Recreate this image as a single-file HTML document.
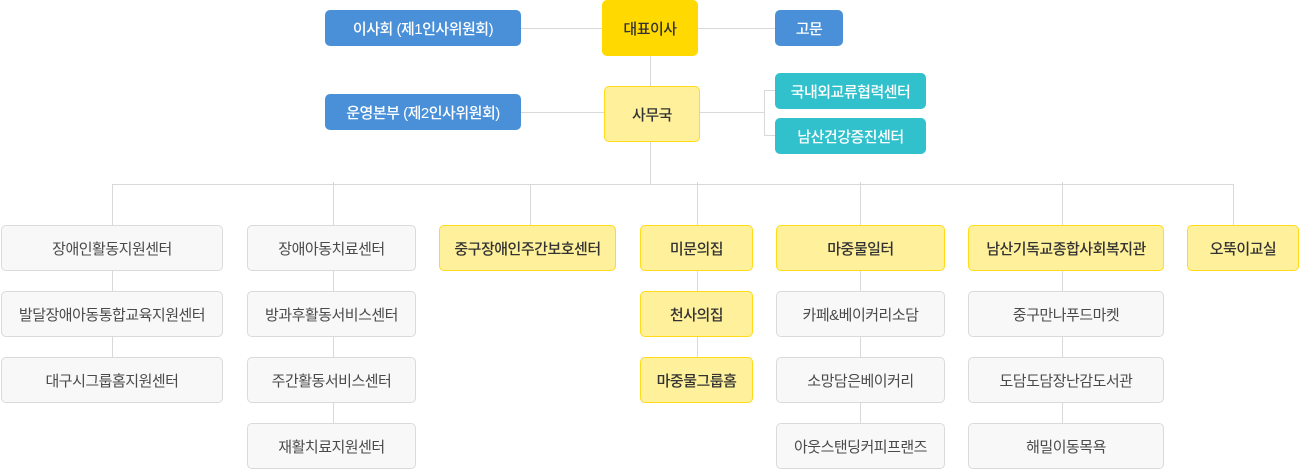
<!DOCTYPE html>
<html>
<head>
<meta charset="utf-8">
<style>
  html,body{margin:0;padding:0;background:#fff;}
  body{width:1300px;height:469px;position:relative;overflow:hidden;
    font-family:"Liberation Sans","Noto Sans CJK KR",sans-serif;}
  .b{position:absolute;box-sizing:border-box;display:flex;align-items:center;justify-content:center;
     font-size:15px;letter-spacing:-0.5px;border-radius:5px;white-space:nowrap;}
  .blue{background:#4a90d8;color:#fff;font-weight:500;}
  .teal{background:#31c1cc;color:#fff;font-weight:500;}
  .ceo{background:#ffd900;color:#333;font-weight:500;}
  .y{background:#fff09b;border:1px solid #ffdb1a;color:#333;font-weight:500;}
  .g{background:#f8f8f8;border:1px solid #dadada;color:#4a4a4a;}
  .h{position:absolute;height:1px;background:#d9d9d9;}
  .v{position:absolute;width:1px;background:#d9d9d9;}
</style>
</head>
<body>
<!-- connectors -->
<div class="h" style="left:521px;top:28px;width:81px;"></div>
<div class="h" style="left:698px;top:28px;width:77px;"></div>
<div class="v" style="left:650px;top:56px;height:30px;"></div>
<div class="h" style="left:521px;top:112px;width:83px;"></div>
<div class="h" style="left:700px;top:112px;width:64px;"></div>
<div class="v" style="left:764px;top:90px;height:46px;"></div>
<div class="h" style="left:764px;top:90px;width:11px;"></div>
<div class="h" style="left:764px;top:135px;width:11px;"></div>
<div class="v" style="left:650px;top:142px;height:42px;"></div>
<div class="h" style="left:112px;top:184px;width:1122px;"></div>

<div class="v" style="left:112px;top:184px;height:180px;"></div>
<div class="v" style="left:333px;top:182px;height:245px;"></div>
<div class="v" style="left:530px;top:184px;height:45px;"></div>
<div class="v" style="left:697px;top:182px;height:180px;"></div>
<div class="v" style="left:860px;top:182px;height:245px;"></div>
<div class="v" style="left:1062px;top:182px;height:245px;"></div>
<div class="v" style="left:1233px;top:184px;height:45px;"></div>

<!-- top -->
<div class="b blue" style="left:325px;top:10px;width:196px;height:36px;">이사회 (제1인사위원회)</div>
<div class="b ceo" style="left:602px;top:0px;width:96px;height:56px;">대표이사</div>
<div class="b blue" style="left:775px;top:10px;width:68px;height:36px;">고문</div>
<div class="b blue" style="left:325px;top:94px;width:196px;height:36px;">운영본부 (제2인사위원회)</div>
<div class="b y" style="left:604px;top:86px;width:96px;height:56px;">사무국</div>
<div class="b teal" style="left:775px;top:73px;width:151px;height:36px;">국내외교류협력센터</div>
<div class="b teal" style="left:775px;top:118px;width:151px;height:36px;">남산건강증진센터</div>

<!-- col1 -->
<div class="b g" style="left:1px;top:225px;width:222px;height:46px;">장애인활동지원센터</div>
<div class="b g" style="left:1px;top:291px;width:222px;height:46px;">발달장애아동통합교육지원센터</div>
<div class="b g" style="left:1px;top:357px;width:222px;height:46px;">대구시그룹홈지원센터</div>

<!-- col2 -->
<div class="b g" style="left:247px;top:225px;width:169px;height:46px;">장애아동치료센터</div>
<div class="b g" style="left:247px;top:291px;width:169px;height:46px;">방과후활동서비스센터</div>
<div class="b g" style="left:247px;top:357px;width:169px;height:46px;">주간활동서비스센터</div>
<div class="b g" style="left:247px;top:423px;width:169px;height:46px;">재활치료지원센터</div>

<!-- col3 -->
<div class="b y" style="left:439px;top:225px;width:177px;height:46px;">중구장애인주간보호센터</div>

<!-- col4 -->
<div class="b y" style="left:640px;top:225px;width:113px;height:46px;">미문의집</div>
<div class="b y" style="left:640px;top:291px;width:113px;height:46px;">천사의집</div>
<div class="b y" style="left:640px;top:357px;width:113px;height:46px;">마중물그룹홈</div>

<!-- col5 -->
<div class="b y" style="left:776px;top:225px;width:169px;height:46px;">마중물일터</div>
<div class="b g" style="left:776px;top:291px;width:169px;height:46px;">카페&amp;베이커리소담</div>
<div class="b g" style="left:776px;top:357px;width:169px;height:46px;">소망담은베이커리</div>
<div class="b g" style="left:776px;top:423px;width:169px;height:46px;">아웃스탠딩커피프랜즈</div>

<!-- col6 -->
<div class="b y" style="left:968px;top:225px;width:196px;height:46px;">남산기독교종합사회복지관</div>
<div class="b g" style="left:968px;top:291px;width:196px;height:46px;">중구만나푸드마켓</div>
<div class="b g" style="left:968px;top:357px;width:196px;height:46px;">도담도담장난감도서관</div>
<div class="b g" style="left:968px;top:423px;width:196px;height:46px;">해밀이동목욕</div>

<!-- col7 -->
<div class="b y" style="left:1187px;top:225px;width:112px;height:46px;">오뚝이교실</div>
</body>
</html>
